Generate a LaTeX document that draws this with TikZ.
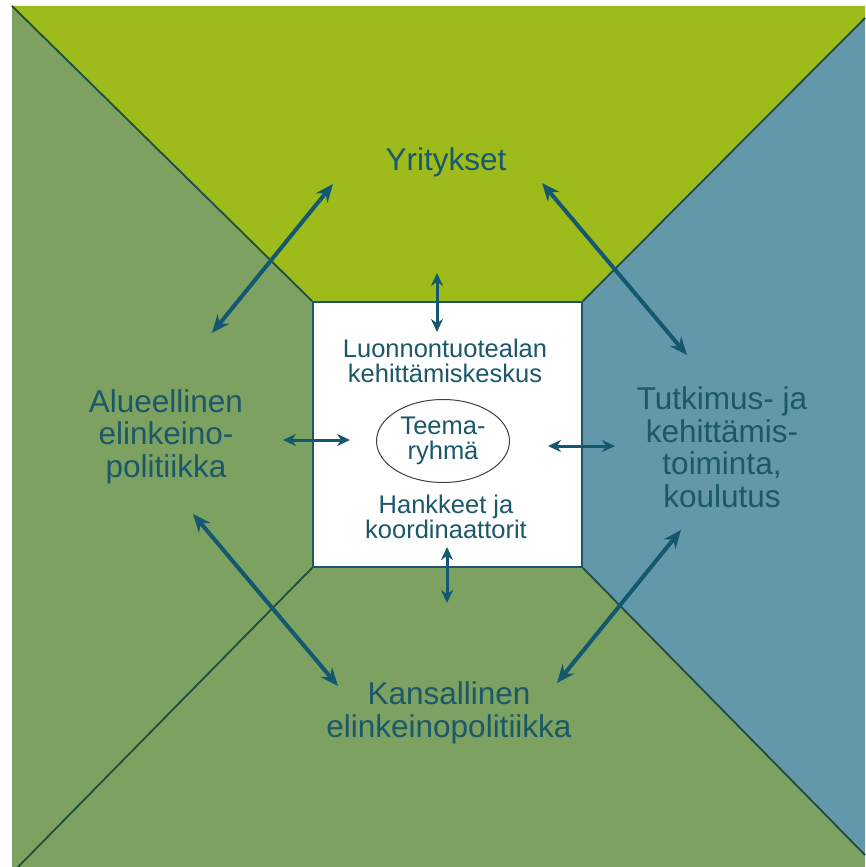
\documentclass[tikz,border=0pt]{standalone}
\usepackage{fontspec}
\setmainfont{Liberation Sans}
\usetikzlibrary{arrows.meta,shapes.geometric}
\definecolor{limebg}{RGB}{157,188,28}
\definecolor{leafbg}{RGB}{125,161,96}
\definecolor{steelbg}{RGB}{99,151,170}
\definecolor{inkc}{RGB}{26,88,106}
\definecolor{arrowc}{RGB}{20,88,112}
\definecolor{divc}{RGB}{30,78,62}
\tikzset{
  outerlbl/.style={text=inkc, font=\fontsize{31.5}{32.5}\selectfont, align=center, inner sep=0pt, anchor=base},
  innerlbl/.style={text=inkc, font=\fontsize{25.5}{24.5}\selectfont, align=center, inner sep=0pt, anchor=base},
  divider/.style={draw=divc, line width=1.8pt},
  centrebox/.style={draw=inkc, fill=white, line width=1.8pt, minimum width=269pt, minimum height=265pt, inner sep=0pt},
  teemabox/.style={ellipse, draw=black!75, line width=1pt, minimum width=133pt, minimum height=83pt, inner sep=0pt, text=inkc, font=\fontsize{25.5}{24.5}\selectfont, align=center},
  biglink/.style={{Stealth[length=18pt,width=15pt]}-{Stealth[length=18pt,width=15pt]}, draw=arrowc, line width=4pt},
  smalllink/.style={{Stealth[length=13pt,width=12pt]}-{Stealth[length=13pt,width=12pt]}, draw=arrowc, line width=3pt}
}
\begin{document}
\begin{tikzpicture}[x=1pt,y=-1pt]
\useasboundingbox (0,0) rectangle (865,867);
\fill[white] (0,0) rectangle (865,867);
% regions
\fill[leafbg] (12,6) rectangle (865,867);
\fill[limebg] (12,6) -- (865,6) -- (865,18) -- (582,302) -- (313,302) -- cycle;
\fill[steelbg] (865,18) -- (582,302) -- (582,567) -- (865,855) -- cycle;
% corner points
\coordinate (tl) at (12,6);
\coordinate (tr) at (865,18);
\coordinate (bl) at (18,867);
\coordinate (br) at (865,855);
\node[centrebox] (centre) at (447.5,434.5) {};
\draw[divider] (tl) -- (centre.north west);
\draw[divider] (tr) -- (centre.north east);
\draw[divider] (bl) -- (centre.south west);
\draw[divider] (br) -- (centre.south east);
\node[centrebox, fill=none] at (447.5,434.5) {};
% labels (base = baseline of last line)
\node[outerlbl] (yri) at (446,170) {Yritykset};
\node[outerlbl] (alu) at (166,477) {Alueellinen\\elinkeino-\\politiikka};
\node[outerlbl] (tut) at (722,507) {Tutkimus- ja\\kehittämis-\\toiminta,\\koulutus};
\node[outerlbl] (kan) at (449,737) {Kansallinen\\elinkeinopolitiikka};
\node[innerlbl] (luo) at (445,382) {Luonnontuotealan\\kehittämiskeskus};
\node[teemabox] (tee) at (443,441) {Teema-\\ryhmä};
\node[innerlbl] (han) at (446,538) {Hankkeet ja\\koordinaattorit};
% arrow ends
\coordinate (a1s) at (212,333); \coordinate (a1e) at (333,184);
\coordinate (a2s) at (542,183); \coordinate (a2e) at (687,355);
\coordinate (a3s) at (193,514); \coordinate (a3e) at (338,686);
\coordinate (a4s) at (557,683); \coordinate (a4e) at (681,530);
\coordinate (v1s) at (437,273); \coordinate (v1e) at (437,332);
\coordinate (v2s) at (447,547); \coordinate (v2e) at (447,603);
\coordinate (h1s) at (283,440); \coordinate (h1e) at (350,440);
\coordinate (h2s) at (548,446); \coordinate (h2e) at (615,446);
\draw[biglink] (a1s) -- (a1e);
\draw[biglink] (a2s) -- (a2e);
\draw[biglink] (a3s) -- (a3e);
\draw[biglink] (a4s) -- (a4e);
\draw[smalllink] (v1s) -- (v1e);
\draw[smalllink] (v2s) -- (v2e);
\draw[smalllink] (h1s) -- (h1e);
\draw[smalllink] (h2s) -- (h2e);
\end{tikzpicture}
\end{document}
